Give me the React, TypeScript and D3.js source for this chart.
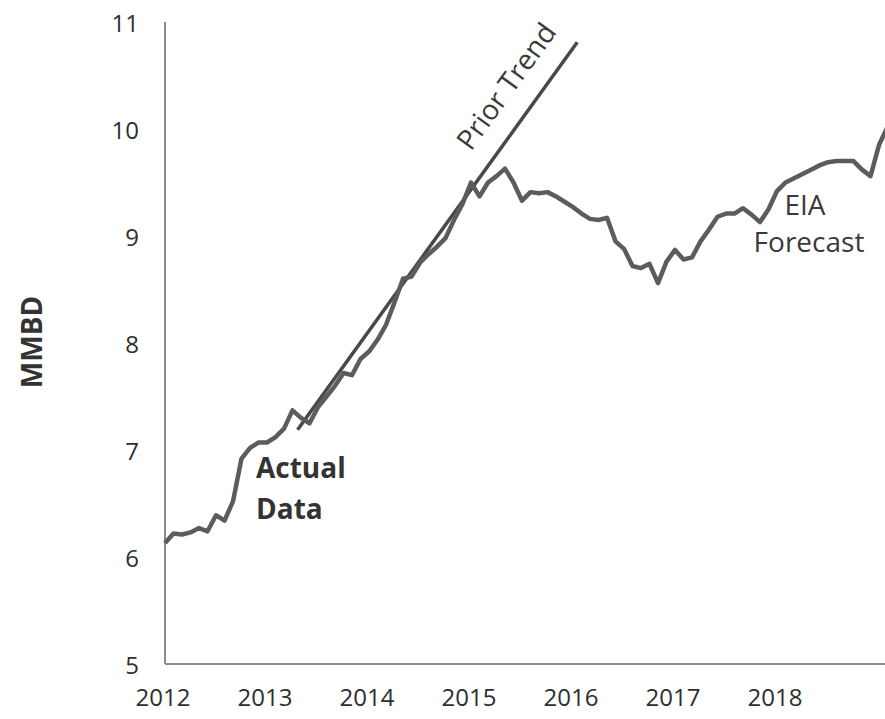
import * as d3 from 'd3';

// monthly crude output, Jan 2012 onward (MMBD)
const production = [
  6.13, 6.22, 6.21, 6.23, 6.27, 6.24, 6.39, 6.34, 6.52, 6.92, 7.02, 7.07,
  7.07, 7.12, 7.2, 7.37, 7.3, 7.25, 7.4, 7.5, 7.6, 7.72, 7.7, 7.85,
  7.92, 8.03, 8.17, 8.38, 8.6, 8.62, 8.75, 8.83, 8.9, 8.98, 9.15, 9.3,
  9.5, 9.37, 9.5, 9.56, 9.63, 9.5, 9.33, 9.41, 9.4, 9.41, 9.37, 9.32,
  9.27, 9.21, 9.16, 9.15, 9.17, 8.95, 8.88, 8.72, 8.7, 8.74, 8.56, 8.76,
  8.87, 8.78, 8.8, 8.95, 9.06, 9.18, 9.21, 9.21, 9.26, 9.2, 9.13, 9.25,
  9.42, 9.5, 9.54, 9.58, 9.62, 9.66, 9.69, 9.7, 9.7, 9.7, 9.62, 9.56,
  9.85, 10.02,
];

// prior trend line: month index -> value
const trendMonths = [15.6, 48.5];
const trendValues = [7.19, 10.81];

const years = ['2012', '2013', '2014', '2015', '2016', '2017', '2018'];
const yTicks = [5, 6, 7, 8, 9, 10, 11];

const W = 885;
const H = 719;
const font = "'Open Sans', sans-serif";

export default function App() {
  const x = d3.scaleLinear().domain([0, 72]).range([165, 777]);
  const y = d3.scaleLinear().domain([5, 11]).range([664, 22]);

  const line = d3
    .line<number>()
    .x((_, i) => x(i))
    .y((d) => y(d));

  const trend = d3
    .line<number>()
    .x((_, i) => x(trendMonths[i]))
    .y((d) => y(d));

  const angle =
    (Math.atan2(
      y(trendValues[1]) - y(trendValues[0]),
      x(trendMonths[1]) - x(trendMonths[0])
    ) *
      180) /
    Math.PI;

  return (
    <svg
      width={W}
      height={H}
      style={{ position: 'fixed', left: 0, top: 0, background: '#fff' }}
      fontFamily={font}
    >
      {/* axes */}
      <line x1={165} x2={165} y1={y(11)} y2={y(5)} stroke="#8c8c8c" strokeWidth={2} />
      <line x1={165} x2={W} y1={y(5)} y2={y(5)} stroke="#8c8c8c" strokeWidth={2} />

      {yTicks.map((t) => (
        <text
          key={t}
          x={139}
          y={y(t)}
          textAnchor="end"
          dominantBaseline="central"
          fontSize={24}
          fill="#2e2e2e"
        >
          {t}
        </text>
      ))}

      {years.map((yr, i) => (
        <text key={yr} x={x(i * 12) - 2} y={706} textAnchor="middle" fontSize={24} fill="#2e2e2e">
          {yr}
        </text>
      ))}

      <text
        transform={`translate(42,342) rotate(-90)`}
        textAnchor="middle"
        fontSize={28}
        fontWeight="bold"
        fill="#333"
      >
        MMBD
      </text>

      {/* prior trend */}
      <path d={trend(trendValues) ?? ''} fill="none" stroke="#484848" strokeWidth={3.5} />
      <text
        transform={`translate(471,152) rotate(${angle})`}
        fontSize={28}
        fill="#3a3a3a"
      >
        Prior Trend
      </text>

      {/* actual + forecast */}
      <path
        d={line(production) ?? ''}
        fill="none"
        stroke="#5c5c5c"
        strokeWidth={4.5}
        strokeLinejoin="round"
      />

      <text x={256} y={478} fontSize={28} fontWeight="bold" fill="#333">
        Actual
      </text>
      <text x={256} y={519} fontSize={28} fontWeight="bold" fill="#333">
        Data
      </text>

      <text x={805} y={215} textAnchor="middle" fontSize={28} fill="#3a3a3a">
        EIA
      </text>
      <text x={809} y={252} textAnchor="middle" fontSize={28} fill="#3a3a3a">
        Forecast
      </text>
    </svg>
  );
}
